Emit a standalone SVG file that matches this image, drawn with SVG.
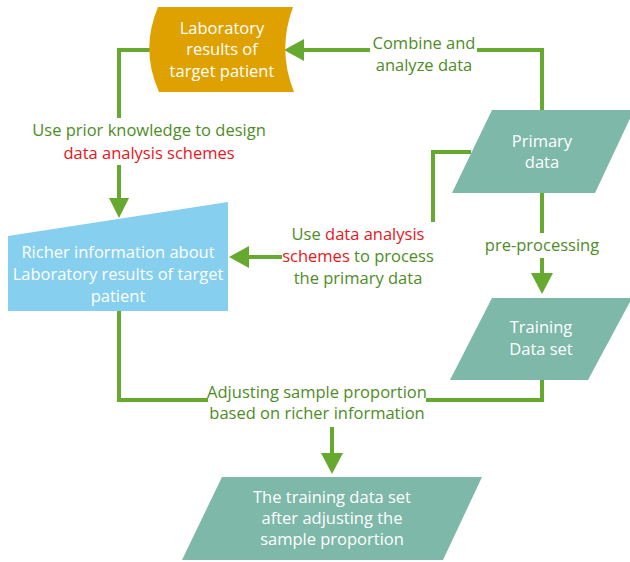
<svg xmlns="http://www.w3.org/2000/svg" width="630" height="562" viewBox="0 0 630 562">
  <defs>
    <style>
      text { font-family: "Open Sans", "Liberation Sans", sans-serif; font-size: 16.5px; text-anchor: middle; }
      .node-text { fill: #ffffff; }
      .label { fill: #4e8c26; }
      .hl { fill: #e8161b; }
      .link { fill: none; stroke: #66a92f; stroke-width: 4; stroke-linejoin: miter; }
      .head { fill: #66a92f; }
      .teal { fill: #7db8a8; }
    </style>
  </defs>

  <rect width="630" height="562" fill="#ffffff"/>

  <!-- connectors -->
  <g id="connectors">
    <!-- Primary data -> Laboratory results -->
    <polyline class="link" points="542,110 542,50 477,50"/>
    <line class="link" x1="370" y1="50" x2="302" y2="50"/>
    <polygon class="head" points="284,50 304,39 304,61"/>
    <text class="label" x="424" y="49">Combine and</text>
    <text class="label" x="424" y="71">analyze data</text>

    <!-- Laboratory results -> Richer information -->
    <polyline class="link" points="152,50 119,50 119,118"/>
    <text class="label" x="149" y="136">Use prior knowledge to design</text>
    <text class="hl" x="149" y="159">data analysis schemes</text>
    <line class="link" x1="119" y1="165" x2="119" y2="200"/>
    <polygon class="head" points="119,218 109,198 129,198"/>

    <!-- Primary data -> Richer information -->
    <polyline class="link" points="471,152 433,152 433,222"/>
    <text x="358" y="240"><tspan class="label">Use </tspan><tspan class="hl">data analysis</tspan></text>
    <text x="358" y="262"><tspan class="hl">schemes</tspan><tspan class="label"> to process</tspan></text>
    <text class="label" x="358" y="284">the primary data</text>
    <line class="link" x1="282" y1="257" x2="246" y2="257"/>
    <polygon class="head" points="229,257 249,246 249,268"/>

    <!-- Primary data -> Training data set -->
    <line class="link" x1="542" y1="193" x2="542" y2="233"/>
    <text class="label" x="542" y="251">pre-processing</text>
    <line class="link" x1="542" y1="258" x2="542" y2="276"/>
    <polygon class="head" points="542,294 531,273 553,273"/>

    <!-- Training data set + Richer information -> adjusted training set -->
    <polyline class="link" points="542,380 542,400 426,400"/>
    <polyline class="link" points="208,400 119,400 119,311"/>
    <text class="label" x="317" y="398">Adjusting sample proportion</text>
    <text class="label" x="317" y="419">based on richer information</text>
    <line class="link" x1="332" y1="427" x2="332" y2="456"/>
    <polygon class="head" points="332,474 321,453 343,453"/>
  </g>

  <!-- Laboratory results of target patient (stored data shape) -->
  <g id="lab-results">
    <path d="M158,7 L293,7 Q277,50 294,92 L159,92 Q140,50 158,7 Z" fill="#dfa100"/>
    <text class="node-text" x="222" y="34">Laboratory</text>
    <text class="node-text" x="222" y="55">results of</text>
    <text class="node-text" x="222" y="77">target patient</text>
  </g>

  <!-- Richer information (manual input shape) -->
  <g id="richer-info">
    <polygon points="8,236 228,202 228,311 8,311" fill="#86cfee"/>
    <text class="node-text" x="118" y="258">Richer information about</text>
    <text class="node-text" x="118" y="280">Laboratory results of target</text>
    <text class="node-text" x="118" y="302">patient</text>
  </g>

  <!-- Primary data -->
  <g id="primary-data">
    <polygon class="teal" points="492,110 634,110 595,193 452,193"/>
    <text class="node-text" x="542" y="147">Primary</text>
    <text class="node-text" x="542" y="168">data</text>
  </g>

  <!-- Training data set -->
  <g id="training-set">
    <polygon class="teal" points="492,298 632,298 588,380 450,380"/>
    <text class="node-text" x="541" y="333">Training</text>
    <text class="node-text" x="541" y="355">Data set</text>
  </g>

  <!-- Training data set after adjusting -->
  <g id="adjusted-set">
    <polygon class="teal" points="222,477 482,477 443,560 182,560"/>
    <text class="node-text" x="332" y="503">The training data set</text>
    <text class="node-text" x="332" y="524">after adjusting the</text>
    <text class="node-text" x="332" y="545">sample proportion</text>
  </g>
</svg>
